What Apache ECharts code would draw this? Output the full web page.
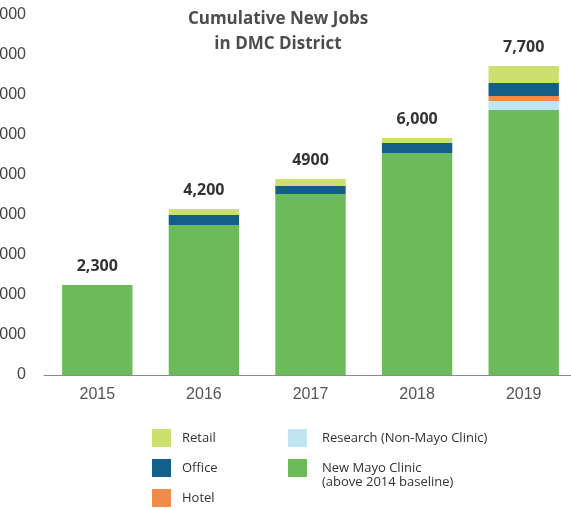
<!DOCTYPE html>
<html>
<head>
<meta charset="utf-8">
<script src="https://cdn.jsdelivr.net/npm/echarts@6/dist/echarts.min.js"></script>
<style>html,body{margin:0;padding:0;background:#fff;}#c{width:571px;height:509px;}</style>
</head>
<body>
<div id="c"></div>
<script>
var years = ['2015', '2016', '2017', '2018', '2019'];
var mayo = [2250, 3750, 4525, 5550, 6625];
var research = [0, 0, 0, 0, 225];
var hotel = [0, 0, 0, 0, 125];
var office = [0, 250, 200, 250, 325];
var retail = [0, 150, 175, 125, 425];
var totalLabels = ['2,300', '4,200', '4900', '6,000', '7,700'];
var yTicks = [0, 1000, 2000, 3000, 4000, 5000, 6000, 7000, 8000, 9000];

var names = ['New Mayo Clinic', 'Research (Non-Mayo Clinic)', 'Hotel', 'Office', 'Retail'];
var colors = ['#6cbb5a', '#bfe4f2', '#f08c4a', '#145e8a', '#cde06f'];
var values = [mayo, research, hotel, office, retail];

function topIndex(j) {
  var t = 0;
  for (var i = 0; i < values.length; i++) if (values[i][j] > 0) t = i;
  return t;
}

var series = values.map(function (arr, i) {
  return {
    name: names[i],
    type: 'bar',
    stack: 'jobs',
    barWidth: '66%',
    itemStyle: { color: colors[i] },
    label: {
      show: false,
      position: 'top',
      distance: 11,
      fontFamily: 'Open Sans',
      fontWeight: 'bold',
      fontSize: 16,
      color: '#333',
      formatter: function (p) { return totalLabels[p.dataIndex]; }
    },
    data: arr.map(function (v, j) {
      return { value: v, label: { show: topIndex(j) === i } };
    })
  };
});

var chart = echarts.init(document.getElementById('c'));
chart.setOption({
  animation: false,
  backgroundColor: '#fff',
  title: {
    text: 'Cumulative New Jobs\nin DMC District',
    left: 273,
    textAlign: 'center',
    top: 2,
    textStyle: { fontFamily: 'Open Sans', fontWeight: 'bold', fontSize: 17, color: '#4d4d4d', lineHeight: 25 }
  },
  legend: [
    {
      data: ['Retail', 'Office', 'Hotel'],
      orient: 'vertical',
      left: 152, top: 429, padding: 0,
      itemWidth: 19, itemHeight: 18, itemGap: 12,
      icon: 'rect',
      textStyle: { fontFamily: 'Open Sans', fontSize: 13, color: '#333', padding: [0, 0, 0, 6] },
      selectedMode: false
    },
    {
      data: ['Research (Non-Mayo Clinic)', 'New Mayo Clinic'],
      orient: 'vertical',
      left: 288, top: 429, padding: 0,
      itemWidth: 19, itemHeight: 18, itemGap: 12,
      icon: 'rect',
      textStyle: { fontFamily: 'Open Sans', fontSize: 13, color: '#333', padding: [0, 0, 0, 10] },
      selectedMode: false
    }
  ],
  graphic: [
    {
      type: 'text', left: 322, top: 476,
      style: { text: '(above 2014 baseline)', font: '13px "Open Sans"', fill: '#333' }
    }
  ],
  grid: { left: 44, right: -6, top: 15, bottom: 134, containLabel: false, outerBoundsMode: 'none' },
  xAxis: {
    type: 'category',
    data: years,
    axisLine: { lineStyle: { color: '#8a8a9a', width: 1 } },
    axisTick: { show: false },
    axisLabel: { fontFamily: 'Liberation Sans', fontSize: 16, color: '#555', margin: 12 }
  },
  yAxis: {
    type: 'value',
    min: 0, max: 9000, interval: 1000,
    axisLine: { show: false },
    axisTick: { show: false },
    splitLine: { show: false },
    axisLabel: {
      fontFamily: 'Liberation Sans', fontSize: 16, color: '#444', margin: 18,
      formatter: function (v) { return yTicks.indexOf(v) >= 0 ? v.toLocaleString('en-US') : ''; }
    }
  },
  series: series
});
</script>
</body>
</html>
